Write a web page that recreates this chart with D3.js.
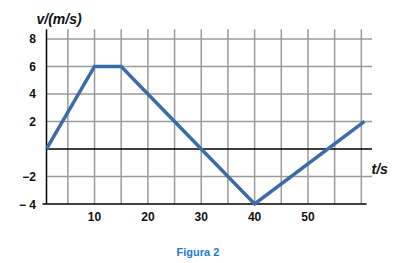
<!DOCTYPE html>
<html>
<head>
<meta charset="utf-8">
<script src="https://cdn.jsdelivr.net/npm/d3@7"></script>
<style>
  html, body { margin: 0; padding: 0; background: #fff; }
  svg { display: block; font-family: "Liberation Sans", Arial, sans-serif; }
</style>
</head>
<body>
<svg id="chart" width="400" height="263"></svg>
<script>
// velocity-time graph data
const times = [1, 10, 15, 30, 40, 60.6];
const speeds = [0, 6, 6, 0, -4, 2];
const gridTimes = [5, 10, 15, 20, 25, 30, 35, 40, 45, 50, 55, 60];
const gridSpeeds = [-2, 2, 4, 6, 8];
const yTickValues = [-4, -2, 2, 4, 6, 8];
const yTickLabels = ["\u2212 4", "\u22122", "2", "4", "6", "8"];
const xTickValues = [10, 20, 30, 40, 50];
const xTickLabels = ["10", "20", "30", "40", "50"];

const svg = d3.select("#chart");

const xScale = d3.scaleLinear().domain([1, 62]).range([46.5, 372]);
const yScale = d3.scaleLinear().domain([-4, 8.7]).range([204, 29.3]);

const gridColor = "#9a9a9a";

// grid lines
const gridG = svg.append("g").attr("class", "grid");
gridG.selectAll("line.v")
  .data(gridTimes)
  .enter()
  .append("line")
  .attr("class", "v")
  .attr("x1", (d) => xScale(d))
  .attr("x2", (d) => xScale(d))
  .attr("y1", yScale(8.7))
  .attr("y2", yScale(-4))
  .attr("stroke", gridColor)
  .attr("stroke-width", 1.5);

gridG.selectAll("line.h")
  .data(gridSpeeds)
  .enter()
  .append("line")
  .attr("class", "h")
  .attr("x1", xScale(1))
  .attr("x2", xScale(62))
  .attr("y1", (d) => yScale(d))
  .attr("y2", (d) => yScale(d))
  .attr("stroke", gridColor)
  .attr("stroke-width", 1.5);

// axes lines
const axisG = svg.append("g").attr("class", "axes");
axisG.append("line")
  .attr("x1", xScale(1)).attr("x2", xScale(1))
  .attr("y1", yScale(8.7)).attr("y2", yScale(-4))
  .attr("stroke", "#000").attr("stroke-width", 1.5);
axisG.append("line")
  .attr("x1", xScale(1)).attr("x2", xScale(62))
  .attr("y1", yScale(0)).attr("y2", yScale(0))
  .attr("stroke", "#000").attr("stroke-width", 1.5);
axisG.append("line")
  .attr("x1", xScale(1) - 4).attr("x2", xScale(61))
  .attr("y1", yScale(-4)).attr("y2", yScale(-4))
  .attr("stroke", "#000").attr("stroke-width", 1.5);

// tick labels
svg.append("g")
  .selectAll("text")
  .data(yTickValues)
  .enter()
  .append("text")
  .attr("x", 36)
  .attr("y", (d) => yScale(d) + 4.5)
  .attr("text-anchor", "end")
  .attr("font-size", 12)
  .attr("font-weight", "bold")
  .attr("fill", "#111")
  .text((d, i) => yTickLabels[i]);

svg.append("g")
  .selectAll("text")
  .data(xTickValues)
  .enter()
  .append("text")
  .attr("x", (d) => xScale(d))
  .attr("y", 221)
  .attr("text-anchor", "middle")
  .attr("font-size", 12)
  .attr("font-weight", "bold")
  .attr("fill", "#111")
  .text((d, i) => xTickLabels[i]);

// axis titles
svg.append("text")
  .attr("x", 36.5)
  .attr("y", 24)
  .attr("font-size", 14)
  .attr("font-style", "italic")
  .attr("font-weight", "bold")
  .attr("fill", "#111")
  .text("v/(m/s)");

svg.append("text")
  .attr("x", 371.5)
  .attr("y", 173.5)
  .attr("font-size", 14)
  .attr("font-style", "italic")
  .attr("font-weight", "bold")
  .attr("fill", "#111")
  .text("t/s");

// the data line
const line = d3.line()
  .x((d, i) => xScale(times[i]))
  .y((d) => yScale(d));

svg.append("path")
  .datum(speeds)
  .attr("fill", "none")
  .attr("stroke", "#3a6caa")
  .attr("stroke-width", 3.5)
  .attr("stroke-linejoin", "miter")
  .attr("d", line);

// caption
svg.append("text")
  .attr("x", 198)
  .attr("y", 255.5)
  .attr("text-anchor", "middle")
  .attr("font-size", 11)
  .attr("font-weight", "bold")
  .attr("fill", "#1f7bcc")
  .text("Figura 2");
</script>
</body>
</html>
